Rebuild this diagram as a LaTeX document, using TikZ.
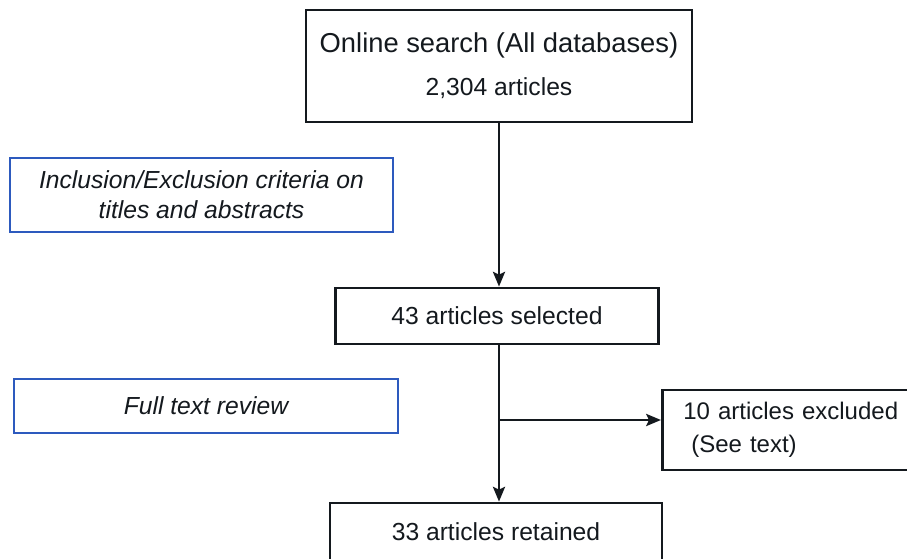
\documentclass[tikz,border=0pt]{standalone}
\usepackage{fontspec}
\setmainfont{Liberation Sans}
\usetikzlibrary{arrows.meta}
\definecolor{boxblue}{RGB}{45,90,190}
\definecolor{lineblack}{RGB}{20,25,30}
\tikzset{
  flowbox/.style={draw=lineblack, line width=2.1pt, fill=white, inner sep=0pt, align=center,
    font=\fontsize{18.5}{22}\selectfont, text=lineblack},
  notebox/.style={draw=boxblue, line width=2.2pt, fill=white, inner sep=0pt, align=center,
    font=\fontsize{18.5}{22.5}\selectfont\itshape, text=lineblack},
  flowarrow/.style={draw=lineblack, line width=2pt, -{Stealth[length=11pt,width=9pt,inset=2pt]}}
}
\begin{document}
\begin{tikzpicture}[x=0.75pt,y=-0.75pt]
\useasboundingbox (0,0) rectangle (907,559);
\clip (0,0) rectangle (907,559);
\node[flowbox, minimum width=289.5pt, minimum height=84pt] (top) at (499,66)
  {\raisebox{-3pt}{\fontsize{20.5}{24}\selectfont Online search (All databases)}\\[13pt]2,304 articles};
\node[notebox, minimum width=287.25pt, minimum height=55.5pt] (crit) at (201.5,195)
  {Inclusion/Exclusion criteria on\\[0pt]titles and abstracts};
\node[flowbox, minimum width=242.25pt, minimum height=42pt] (mid) at (497,316)
  {43 articles selected};
\node[notebox, minimum width=288pt, minimum height=40.5pt] (full) at (206,406)
  {Full text review};
\node[flowbox, minimum height=60pt, text width=194pt, inner xsep=15.75pt, align=left,
  font=\fontsize{18}{22}\selectfont] (excl) at (812.7,430)
  {10 articles excluded\\[3pt]\ (See text)};
\node[flowbox, minimum width=249pt, minimum height=60pt] (bot) at (496,543)
  {\raisebox{17pt}{33 articles retained}};
\coordinate (br) at (499,420);
\draw[flowarrow] (top.south -| br) -- (mid.north -| br);
\draw[flowarrow] (mid.south -| br) -- (bot.north -| br);
\draw[flowarrow] (br) -- (br -| excl.west);
\end{tikzpicture}
\end{document}
